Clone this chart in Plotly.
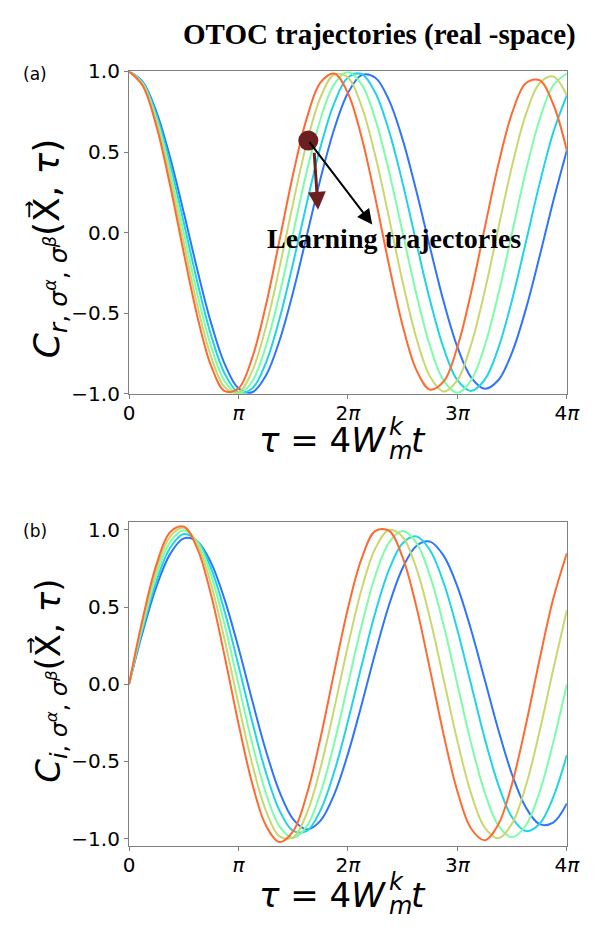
import plotly.graph_objects as go

# ---------------------------------------------------------------------------
# Data: OTOC trajectories sampled on tau / pi = 0 ... 4 (step 1/8)
# ---------------------------------------------------------------------------
tau_over_pi = [0, 0.125, 0.25, 0.375, 0.5, 0.625, 0.75, 0.875,
               1.0, 1.125, 1.25, 1.375, 1.5, 1.625, 1.75, 1.875,
               2.0, 2.125, 2.25, 2.375, 2.5, 2.625, 2.75, 2.875,
               3.0, 3.125, 3.25, 3.375, 3.5, 3.625, 3.75, 3.875, 4.0]

# real part C_r
re_blue = [1.000, .935, .750, .468, .125, -.233, -.561, -.816, -.966, -.990, -.887,
           -.669, -.366, -.016, .336, .643, .866, .977, .961, .822, .577, .258,
           -.092, -.429, -.709, -.897, -.968, -.914, -.742, -.476, -.150, .194, .510]
re_cyan = [1.000, .930, .729, .426, .063, -.309, -.637, -.875, -.990, -.966, -.807,
           -.534, -.187, .186, .533, .804, .962, .984, .868, .631, .306, -.062,
           -.420, -.718, -.915, -.982, -.912, -.714, -.416, -.061, .301, .620, .851]
re_green = [1.000, .924, .707, .383, 0.000, -.383, -.707, -.923, -.999, -.923, -.706,
            -.382, 0.000, .382, .705, .921, .997, .920, .704, .381, 0.000, -.380,
            -.703, -.918, -.993, -.916, -.701, -.379, 0.000, .379, .699, .913, .987]
re_yellow = [1.000, .918, .684, .339, -.063, -.454, -.770, -.959, -.990, -.859, -.586,
             -.217, .187, .559, .840, .981, .962, .784, .477, .093, -.306, -.653,
             -.892, -.985, -.915, -.695, -.361, .031, .416, .732, .927, .969, .851]
re_orange = [1.000, .911, .661, .294, -.125, -.521, -.826, -.983, -.966, -.777, -.452,
             -.047, .365, .712, .932, .987, .865, .592, .215, -.200, -.577, -.851,
             -.973, -.923, -.709, -.372, .030, .425, .743, .927, .946, .798, .510]

# imaginary part C_i
im_blue = [0.000, .338, .632, .843, .945, .925, .786, .545, .236, -.104, -.429,
           -.697, -.875, -.940, -.883, -.713, -.451, -.132, .204, .512, .753, .896,
           .924, .832, .633, .353, .029, -.298, -.586, -.797, -.906, -.896, -.772]
im_cyan = [0.000, .360, .668, .883, .973, .926, .750, .468, .122, -.241, -.570,
           -.818, -.950, -.950, -.815, -.567, -.240, .121, .464, .741, .914, .958,
           .868, .656, .352, 0.000, -.352, -.653, -.863, -.951, -.905, -.733, -.458]
im_green = [0.000, .382, .705, .921, .997, .921, .705, .381, 0.000, -.381, -.704,
            -.920, -.995, -.919, -.703, -.381, 0.000, .380, .703, .918, .993, .917,
            .702, .380, 0.000, -.380, -.701, -.916, -.991, -.915, -.700, -.379, 0.000]
im_yellow = [0.000, .404, .741, .956, 1.013, .904, .646, .283, -.127, -.515, -.817,
             -.985, -.991, -.834, -.540, -.157, .250, .616, .880, .999, .954, .752,
             .426, .031, -.368, -.707, -.928, -.997, -.902, -.659, -.308, .094, .479]
im_orange = [0.000, .425, .773, .985, 1.021, .877, .578, .177, -.255, -.641, -.913,
             -1.022, -.951, -.711, -.346, .080, .491, .814, .993, .995, .822, .503,
             .095, -.328, -.693, -.934, -1.010, -.906, -.643, -.266, .157, .552, .849]

line_colors = ["#2f74ff", "#1fd4e6", "#7dfcaa", "#c9d770", "#ff6a30"]
re_series = [re_blue, re_cyan, re_green, re_yellow, re_orange]
im_series = [im_blue, im_cyan, im_green, im_yellow, im_orange]

x_tick_vals = [0, 1, 2, 3, 4]
x_tick_text = ["0", "<i>π</i>", "2<i>π</i>", "3<i>π</i>", "4<i>π</i>"]
y_tick_vals = [-1.0, -0.5, 0.0, 0.5, 1.0]

# start point of the learning trajectory and arrow targets (tau/pi, value)
start_point = [1.638, 0.571]
arrow_black_tip = [2.222, 0.051]
arrow_red_tail = [1.691, 0.505]
arrow_red_tip = [1.727, 0.142]
label_point = [2.425, -0.035]

# ---------------------------------------------------------------------------
W, H = 606, 930
fig = go.Figure()

for ys, col in zip(re_series, line_colors):
    fig.add_trace(go.Scatter(x=tau_over_pi, y=ys, mode="lines",
                             line=dict(color=col, width=2, shape="spline"),
                             xaxis="x", yaxis="y", showlegend=False))
for ys, col in zip(im_series, line_colors):
    fig.add_trace(go.Scatter(x=tau_over_pi, y=ys, mode="lines",
                             line=dict(color=col, width=2, shape="spline"),
                             xaxis="x2", yaxis="y2", showlegend=False))

fig.add_trace(go.Scatter(x=[start_point[0]], y=[start_point[1]], mode="markers",
                         marker=dict(size=20, color="#6b1f1f"),
                         xaxis="x", yaxis="y", showlegend=False, cliponaxis=False))

frame = dict(showline=True, linecolor="#808080", linewidth=1.2, mirror=True,
             ticks="outside", ticklen=4, tickwidth=1, tickcolor="#808080",
             showgrid=False, zeroline=False,
             tickfont=dict(family="DejaVu Sans", size=20, color="black"))

x_dom = [127 / W, 579 / W]
fig.update_layout(
    width=W, height=H, margin=dict(l=0, r=0, t=0, b=0),
    paper_bgcolor="white", plot_bgcolor="white",
    xaxis=dict(domain=x_dom, anchor="y", range=[0, 4], tickvals=x_tick_vals,
               ticktext=x_tick_text, ticklabelstandoff=-3, **frame),
    yaxis=dict(domain=[1 - 392 / H, 1 - 61 / H], anchor="x", range=[-1, 1],
               tickvals=y_tick_vals, tickformat=".1f", **frame),
    xaxis2=dict(domain=x_dom, anchor="y2", range=[0, 4], tickvals=x_tick_vals,
                ticktext=x_tick_text, ticklabelstandoff=-3, **frame),
    yaxis2=dict(domain=[1 - 856 / H, 1 - 524 / H], anchor="x2", range=[-1.047, 1.048],
                tickvals=y_tick_vals, tickformat=".1f", **frame),
)

y_title_r = ("<i>C</i><sub><i>r</i>, <i>σ</i><sup><i>α</i></sup>, "
             "<i>σ</i><sup><i>β</i></sup></sub>(X⃗, <i>τ</i>)")
y_title_i = ("<i>C</i><sub><i>i</i>, <i>σ</i><sup><i>α</i></sup>, "
             "<i>σ</i><sup><i>β</i></sup></sub>(X⃗, <i>τ</i>)")


def paper(px, py):
    return px / W, 1 - py / H


ann = []


def add_text(text, px, py, size, family="DejaVu Sans", xanchor="center", angle=0):
    x, y = paper(px, py)
    ann.append(dict(text=text, x=x, y=y, xref="paper", yref="paper", showarrow=False,
                    xanchor=xanchor, yanchor="middle", textangle=angle,
                    font=dict(family=family, size=size, color="black")))


add_text("<b>OTOC trajectories (real -space)</b>", 386, 23, 29, family="Liberation Serif")
add_text("(a)", 30, 64, 17)
add_text("(b)", 30, 533, 17)
add_text(y_title_r, 44, 243, 36, angle=-90)
add_text(y_title_i, 45, 687, 34, angle=-90)

# x-axis title  tau = 4 W_m^k t  (stacked sub/superscript on W)
for mid in (439, 906):
    add_text("<i>τ</i> = 4<i>W</i>", 394, mid, 34, xanchor="right")
    add_text("<i>k</i>", 393, mid - 13, 24, xanchor="left")
    add_text("<i>m</i>", 393, mid + 12, 24, xanchor="left")
    add_text("<i>t</i>", 416, mid, 34, xanchor="left")

ann += [
    dict(x=arrow_black_tip[0], y=arrow_black_tip[1], ax=start_point[0], ay=start_point[1],
         xref="x", yref="y", axref="x", ayref="y", text="", showarrow=True,
         arrowhead=2, arrowsize=1.5, arrowwidth=2, arrowcolor="black"),
    dict(x=arrow_red_tip[0], y=arrow_red_tip[1], ax=arrow_red_tail[0], ay=arrow_red_tail[1],
         xref="x", yref="y", axref="x", ayref="y", text="", showarrow=True,
         arrowhead=2, arrowsize=1.2, arrowwidth=3, arrowcolor="#6b1f1f"),
    dict(text="<b>Learning trajectories</b>", x=label_point[0], y=label_point[1],
         xref="x", yref="y", showarrow=False,
         font=dict(family="Liberation Serif", size=28, color="black")),
]
fig.update_layout(annotations=ann)

# page without body margin so the 606x930 figure fills the window exactly
fig.write_html("out.html",
               post_script="document.body.style.margin='0';document.body.style.overflow='hidden';")
